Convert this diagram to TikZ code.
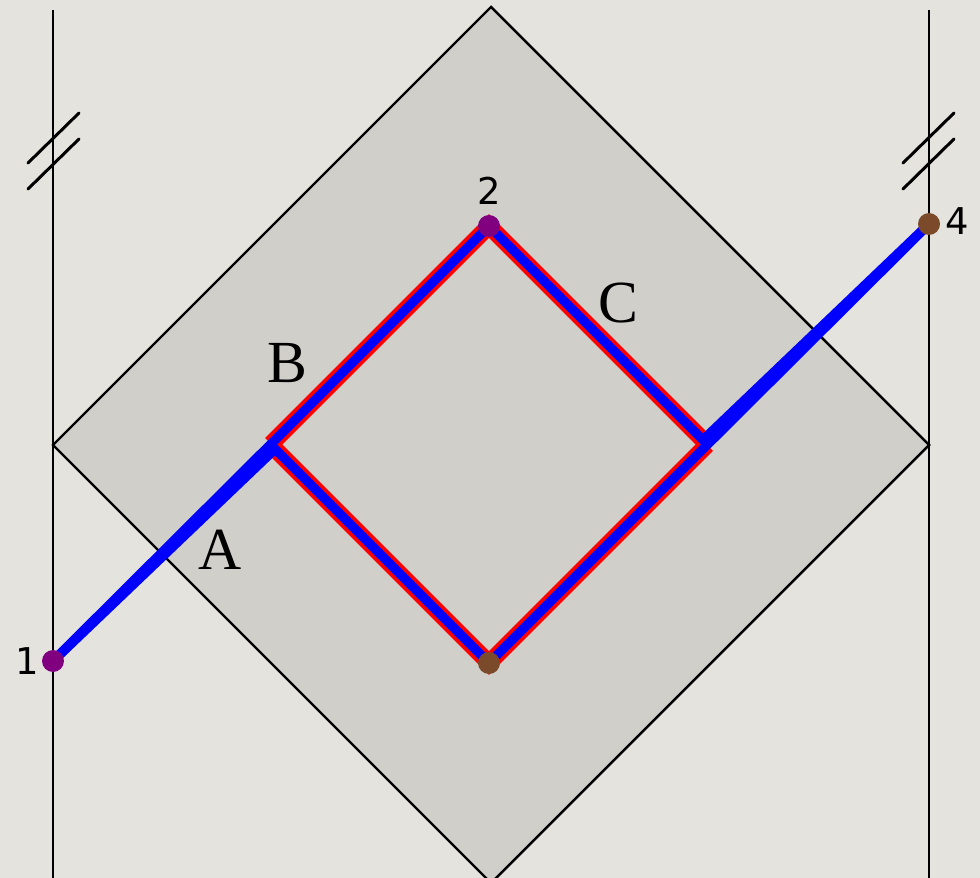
\documentclass[tikz,border=0pt]{standalone}
\usepackage{fontspec}
\setmainfont{Liberation Serif}
\setsansfont{DejaVu Sans}
\usetikzlibrary{positioning}
\definecolor{paperBg}{HTML}{E4E3DD}
\definecolor{wedgeGray}{HTML}{D1CFCA}
\definecolor{evPurple}{HTML}{800080}
\definecolor{evBrown}{HTML}{7A4A2A}
\tikzset{
  wallLine/.style={draw=black, line width=1.4pt},
  hashLine/.style={draw=black, line width=1.7pt, line cap=round},
  redTrack/.style={draw=red, line width=9.5pt, line join=miter},
  blueTrack/.style={draw=blue, line width=5.4pt, line join=miter},
  evDot/.style={circle, inner sep=0pt, minimum size=0.44cm},
  evNum/.style={font=\sffamily\fontsize{21}{21}\selectfont, inner sep=0pt},
  segLabel/.style={font=\fontsize{34}{34}\selectfont, inner sep=0pt}
}

\begin{document}
\begin{tikzpicture}[x=0.02cm, y=-0.02cm]
  \useasboundingbox (0,0) rectangle (980,878);
  \fill[paperBg] (0,0) rectangle (980,878);
  \clip (0,0) rectangle (980,878);

  % diamond region
  \coordinate (dTop) at (491,7);
  \coordinate (dLeft) at (53,445);
  \coordinate (dBot) at (491,883);
  \coordinate (dRight) at (929,445);
  \fill[wedgeGray] (dTop) -- (dLeft) -- (dBot) -- (dRight) -- cycle;
  \draw[wallLine] (dTop) -- (dLeft) -- (dBot) -- (dRight) -- cycle;

  % walls with break marks
  \coordinate (wL1) at (53,10);
  \coordinate (wL2) at (53,878);
  \coordinate (wR1) at (929,10);
  \coordinate (wR2) at (929,878);
  \draw[wallLine] (wL1) -- (wL2);
  \draw[wallLine] (wR1) -- (wR2);
  \draw[hashLine] (28,163) -- (79,113);
  \draw[hashLine] (28,189) -- (79,139);
  \draw[hashLine] (903,163) -- (954,113);
  \draw[hashLine] (903,189) -- (954,139);

  % events and corners
  \coordinate (e1) at (53,661);
  \coordinate (e2) at (489,226);
  \coordinate (e3) at (489,663);
  \coordinate (e4) at (929,224);
  \coordinate (Lu) at (271,444);
  \coordinate (Ll) at (275,449);
  \coordinate (Ru) at (703,440);
  \coordinate (Rl) at (707,445);

  % paths
  \draw[redTrack] (Lu) -- (e2) -- (Ru);
  \draw[redTrack] (Ll) -- (e3) -- (Rl);
  \draw[blueTrack] (e1) -- (Lu) -- (e2) -- (Ru) -- (e4);
  \draw[blueTrack] (e1) -- (Ll) -- (e3) -- (Rl) -- (e4);

  \node[evDot, fill=evPurple] (d1) at (e1) {};
  \node[evDot, fill=evPurple] (d2) at (e2) {};
  \node[evDot, fill=evBrown] (d3) at (e3) {};
  \node[evDot, fill=evBrown] (d4) at (e4) {};

  \node[evNum, left=0.04cm of d1] (n1) {1};
  \node[evNum, above=0.2cm of d2] (n2) {2};
  \node[evNum, right=0.1cm of d4, yshift=0.05cm] (n4) {4};

  \node[segLabel] (labA) at (220,550) {A};
  \node[segLabel] (labB) at (287,363) {B};
  \node[segLabel] (labC) at (618,303) {C};
\end{tikzpicture}
\end{document}
